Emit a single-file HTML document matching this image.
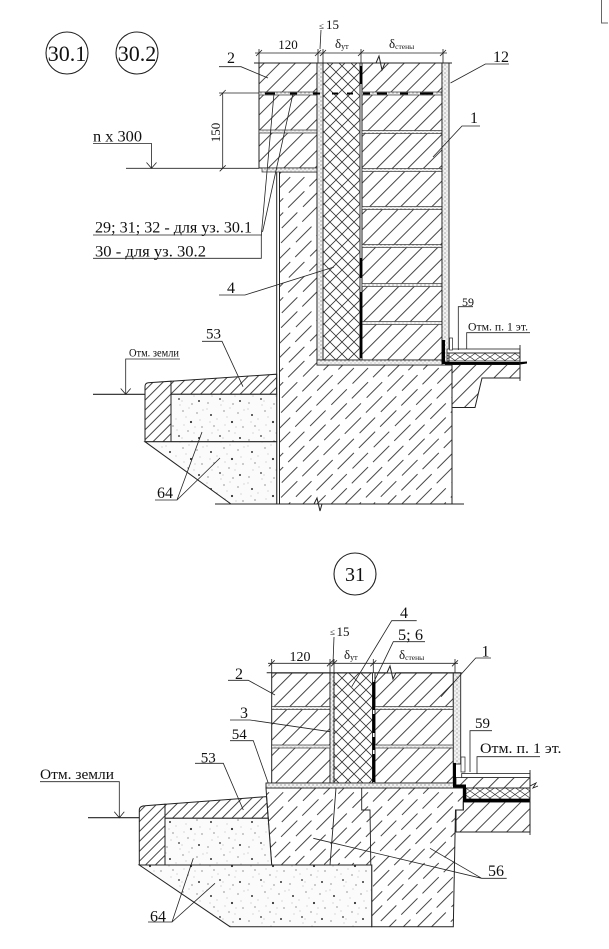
<!DOCTYPE html>
<html><head><meta charset="utf-8"><style>
html,body{margin:0;padding:0;background:#fff;}
svg{display:block;}
text{font-family:"Liberation Serif",serif;fill:#111;}
</style></head><body>
<svg width="609" height="949" viewBox="0 0 609 949" xmlns="http://www.w3.org/2000/svg">
<defs>
<pattern id="br" width="11" height="10" patternUnits="userSpaceOnUse" patternTransform="rotate(45)">
<line x1="0.5" y1="0" x2="0.5" y2="10" stroke="#333" stroke-width="0.9"/></pattern>
<pattern id="dn" width="7" height="10" patternUnits="userSpaceOnUse" patternTransform="rotate(45)">
<line x1="0.5" y1="0" x2="0.5" y2="10" stroke="#333" stroke-width="0.9"/></pattern>
<pattern id="cc" width="20" height="30" patternUnits="userSpaceOnUse" patternTransform="rotate(45)">
<path d="M0.5 0V22M10.5 10V30M10.5 0V3" stroke="#333" stroke-width="0.9" fill="none"/></pattern>
<pattern id="xh" width="12" height="12" patternUnits="userSpaceOnUse">
<path d="M0 0L12 12M12 0L0 12" stroke="#333" stroke-width="0.8" fill="none"/></pattern>
<pattern id="xf" width="10" height="7" patternUnits="userSpaceOnUse">
<path d="M0 0L10 7M10 0L0 7" stroke="#333" stroke-width="0.7" fill="none"/></pattern>
<pattern id="mo" width="4" height="4" patternUnits="userSpaceOnUse">
<rect width="4" height="4" fill="#f2f2f2"/>
<circle cx="1" cy="1" r="0.6" fill="#777"/><circle cx="3" cy="3" r="0.5" fill="#999"/></pattern>
<pattern id="sd" width="41" height="37" patternUnits="userSpaceOnUse">
<rect width="41" height="37" fill="#fbfbfb"/>
<g fill="#333"><circle cx="6" cy="8" r="1"/><circle cx="27" cy="15" r="1.1"/><circle cx="15" cy="29" r="0.9"/><circle cx="35" cy="31" r="1"/></g>
<g fill="#555"><circle cx="19" cy="4" r="0.6"/><circle cx="33" cy="6" r="0.6"/><circle cx="9" cy="19" r="0.6"/><circle cx="24" cy="24" r="0.6"/><circle cx="3" cy="33" r="0.6"/><circle cx="38" cy="20" r="0.6"/><circle cx="28" cy="34" r="0.6"/></g>
<g fill="#999"><circle cx="12" cy="12" r="0.45"/><circle cx="2" cy="2" r="0.45"/><circle cx="22" cy="10" r="0.45"/><circle cx="30" cy="26" r="0.45"/><circle cx="16" cy="35" r="0.45"/><circle cx="36" cy="13" r="0.45"/><circle cx="7" cy="26" r="0.45"/><circle cx="20" cy="18" r="0.45"/><circle cx="39" cy="3" r="0.45"/><circle cx="25" cy="1" r="0.45"/><circle cx="13" cy="23" r="0.45"/><circle cx="31" cy="20" r="0.45"/><circle cx="5" cy="15" r="0.45"/><circle cx="18" cy="31" r="0.45"/></g>
</pattern>
</defs>

<!-- corner mark -->
<path d="M601.5 0V23H608" stroke="#666" stroke-width="1" fill="none"/>

<!-- ================= TOP DRAWING ================= -->
<circle cx="67" cy="53" r="21" fill="none" stroke="#222" stroke-width="1.1"/>
<text x="67" y="61" font-size="22" text-anchor="middle">30.1</text>
<circle cx="137" cy="53" r="21" fill="none" stroke="#222" stroke-width="1.1"/>
<text x="137" y="61" font-size="22" text-anchor="middle">30.2</text>

<!-- dimensions -->
<g stroke="#222" stroke-width="0.8" fill="none">
<path d="M255 53H447"/>
<path d="M259 49V63M318 49V63M323 49V63M361 49V63M443 49V63"/>
<path d="M256 56L262 50M315 56L321 50M320 56L326 50M358 56L364 50M440 56L446 50"/>
<path d="M321 30L320 49"/>
</g>
<text x="288" y="49" font-size="13" text-anchor="middle">120</text>
<text x="319" y="29" font-size="9">≤</text>
<text x="326" y="29" font-size="13">15</text>
<text x="335" y="48" font-size="13">δ<tspan font-size="8" dy="1">ут</tspan></text>
<text x="389" y="48" font-size="13">δ<tspan font-size="7.5" dy="1">стены</tspan></text>

<!-- foundation -->
<path d="M279.5 172H317V365H452V504H279.5Z" fill="url(#cc)" stroke="#222" stroke-width="1"/>
<path d="M276.7 172V504M279.5 172V504" stroke="#222" stroke-width="1"/>

<!-- outer brick -->
<rect x="259" y="63" width="58" height="105" fill="url(#br)" stroke="#222" stroke-width="1"/>
<rect x="259" y="92" width="58" height="3" fill="url(#mo)" stroke="#333" stroke-width="0.7"/>
<rect x="259" y="130" width="58" height="3" fill="url(#mo)" stroke="#333" stroke-width="0.7"/>
<rect x="262" y="168" width="55" height="4" fill="url(#mo)" stroke="#333" stroke-width="0.7"/>

<!-- mortar strip, insulation, inner wall -->
<rect x="317" y="63" width="6" height="297" fill="url(#mo)" stroke="#222" stroke-width="0.9"/>
<rect x="323" y="63" width="37" height="297" fill="url(#xh)" stroke="#222" stroke-width="0.9"/>
<rect x="362" y="63" width="80" height="297" fill="url(#br)" stroke="#222" stroke-width="1"/>
<g fill="url(#mo)" stroke="#333" stroke-width="0.7">
<rect x="362" y="92" width="80" height="3"/>
<rect x="362" y="130.5" width="80" height="3"/>
<rect x="362" y="168.5" width="80" height="3"/>
<rect x="362" y="206.5" width="80" height="3"/>
<rect x="362" y="244.5" width="80" height="3"/>
<rect x="362" y="283.5" width="80" height="3"/>
<rect x="362" y="321.5" width="80" height="3"/>
</g>
<rect x="317" y="360" width="125" height="5" fill="url(#mo)" stroke="#222" stroke-width="0.8"/>
<rect x="442" y="63" width="7" height="299" fill="url(#mo)" stroke="#222" stroke-width="0.9"/>
<path d="M361 66V84M361 258V278M361 292V358" stroke="#000" stroke-width="2.4"/>
<path d="M265 93.5H275M290 93.5H297M313 93.5H320M332 93.5H338M347 93.5H353M363 93.5H370M377 93.5H387M400 93.5H408M420 93.5H433" stroke="#000" stroke-width="2"/>

<!-- top cut line -->
<path d="M254 63H376L379 56L382 70L385 63H452" stroke="#222" stroke-width="1" fill="none"/>

<!-- floor (top) -->
<path d="M452 364.5H520V378H482L475 407.5H452Z" fill="url(#br)" stroke="#222" stroke-width="1"/>
<rect x="447" y="349" width="73" height="4" fill="#fff" stroke="#222" stroke-width="0.8"/>
<rect x="447" y="353" width="73" height="8" fill="url(#xf)" stroke="#222" stroke-width="0.8"/>
<path d="M445 362H520L527 361.5V363.5L520 364.5H445Z" fill="#000"/>
<rect x="441.7" y="340" width="3.3" height="24" fill="#000"/>
<rect x="449.5" y="338" width="3" height="12" fill="#fff" stroke="#222" stroke-width="0.7"/>
<path d="M520 345V381" stroke="#222" stroke-width="0.9"/>

<!-- blind area, sand (top) -->
<path d="M145 441.7V386.7Q145 383 148.3 382.7L171 381.2V441.7Z" fill="url(#dn)" stroke="#222" stroke-width="1"/>
<path d="M171 381.2L276.7 374.2V394.3H171Z" fill="url(#dn)" stroke="#222" stroke-width="1"/>
<rect x="171" y="394.3" width="105.7" height="47.4" fill="url(#sd)" stroke="#222" stroke-width="1"/>
<path d="M145 441.7H276.7V504H231Z" fill="url(#sd)" stroke="#222" stroke-width="1"/>

<!-- base lines -->
<path d="M215 504H314L317 498L320 511L322 504H464" stroke="#222" stroke-width="1" fill="none"/>
<path d="M93 394.3H145" stroke="#222" stroke-width="1.2"/>

<!-- leaders top -->
<g stroke="#222" stroke-width="0.8" fill="none">
<path d="M219 66.7H241L268 78"/>
<path d="M509 64H485.4L450.5 83"/>
<path d="M480 126H462L433 157"/>
<path d="M219 295H245L334 267"/>
<path d="M202 341.3H222L243 386.7"/>
<path d="M155 500H177L202 432M177 500L220 458"/>
<path d="M180 359H125.7V394.3M120.7 388.5L125.7 394.3L130.7 388.5"/>
<path d="M93 143.5H151.5V168.3M146.5 162.5L151.5 168.3L156.5 162.5"/>
<path d="M126 168.3H259"/>
<path d="M219 93H259M222.7 93V168.3M219.7 96L225.7 90M219.7 171.3L225.7 165.3"/>
<path d="M93 235H262M93 258.3H261.3V235L274 93.5M262.5 232L293 93.5"/>
<path d="M473 306.7H458.3V350"/>
<path d="M530 332.7H466.7V349"/>
</g>
<text x="227" y="63" font-size="16">2</text>
<text x="493" y="62" font-size="16">12</text>
<text x="470" y="123" font-size="16">1</text>
<text x="0" y="0" font-size="13" text-anchor="middle" transform="translate(220 132.5) rotate(-90)">150</text>
<text x="93" y="141.5" font-size="16" textLength="49" lengthAdjust="spacingAndGlyphs">n x 300</text>
<text x="95" y="232.5" font-size="16" textLength="157" lengthAdjust="spacingAndGlyphs">29; 31; 32 - для уз. 30.1</text>
<text x="95" y="256.5" font-size="16" textLength="111" lengthAdjust="spacingAndGlyphs">30 - для уз. 30.2</text>
<text x="227" y="293" font-size="16">4</text>
<text x="206" y="338.5" font-size="15">53</text>
<text x="129" y="356.5" font-size="11.5" textLength="50" lengthAdjust="spacingAndGlyphs">Отм. земли</text>
<text x="157" y="498" font-size="16">64</text>
<text x="462" y="306" font-size="12">59</text>
<text x="468" y="330.5" font-size="11.5" textLength="60" lengthAdjust="spacingAndGlyphs">Отм. п. 1 эт.</text>

<!-- ================= BOTTOM DRAWING ================= -->
<circle cx="355" cy="574" r="21" fill="none" stroke="#222" stroke-width="1.1"/>
<text x="355" y="581" font-size="20" text-anchor="middle">31</text>

<g stroke="#222" stroke-width="0.8" fill="none">
<path d="M268 663.3H458"/>
<path d="M271.7 659V673M330 659V673M334 659V673M373.3 659V673M455 659V673"/>
<path d="M268.7 666.3L274.7 660.3M327 666.3L333 660.3M331 666.3L337 660.3M370.3 666.3L376.3 660.3M452 666.3L458 660.3"/>
<path d="M334 637L333 663"/>
</g>
<text x="300" y="661" font-size="14" text-anchor="middle">120</text>
<text x="330" y="635" font-size="9">≤</text>
<text x="336.5" y="636" font-size="13">15</text>
<text x="344" y="659" font-size="13">δ<tspan font-size="8" dy="1">ут</tspan></text>
<text x="399" y="659" font-size="13">δ<tspan font-size="7.5" dy="1">стены</tspan></text>

<!-- foundation 56 -->
<path d="M266 788H463.3V810H455.5L453.3 926.7H371.7V865H271.7Z" fill="url(#cc)" stroke="#222" stroke-width="1"/>
<path d="M336 788L330 865M361.7 788V810H370L371.7 926.7" stroke="#222" stroke-width="0.9" fill="none"/>

<!-- walls -->
<rect x="271.7" y="673" width="58.3" height="110" fill="url(#br)" stroke="#222" stroke-width="1"/>
<rect x="330" y="673" width="4" height="110" fill="url(#mo)" stroke="#222" stroke-width="0.9"/>
<rect x="334" y="673" width="38.5" height="110" fill="url(#xh)" stroke="#222" stroke-width="0.9"/>
<rect x="375" y="673" width="78.3" height="110" fill="url(#br)" stroke="#222" stroke-width="1"/>
<g fill="url(#mo)" stroke="#333" stroke-width="0.7">
<rect x="271.7" y="706.5" width="58.3" height="3"/>
<rect x="271.7" y="745" width="58.3" height="3"/>
<rect x="375" y="706.5" width="78.3" height="3"/>
<rect x="375" y="745" width="78.3" height="3"/>
</g>
<rect x="453.3" y="673" width="7.4" height="91" fill="url(#mo)" stroke="#222" stroke-width="0.9"/>
<path d="M373.7 682V710M373.7 714V733M373.7 737V750M373.7 754V782" stroke="#000" stroke-width="2.6"/>
<rect x="266" y="783" width="189" height="5" fill="url(#mo)" stroke="#222" stroke-width="0.9"/>
<path d="M266.7 672.7H387L390 666L393 679L396 672.7H461.7" stroke="#222" stroke-width="1" fill="none"/>

<!-- floor (bottom) -->
<path d="M466 802H530V832H456V810H463.3V802Z" fill="url(#br)" stroke="#222" stroke-width="1"/>
<rect x="456" y="777.5" width="74" height="10.5" fill="url(#br)" stroke="#222" stroke-width="0.8"/>
<rect x="466" y="788" width="64" height="11" fill="url(#xf)" stroke="#222" stroke-width="0.8"/>
<rect x="461.7" y="773.5" width="68.3" height="4" fill="#fff" stroke="#222" stroke-width="0.8"/>
<path d="M453 763H456V784.5H466V799H530V802H463V787.5H453Z" fill="#000"/>
<rect x="461" y="757" width="4" height="15" fill="#fff" stroke="#222" stroke-width="0.7"/>
<path d="M530 770V835M530 786L536 783L533 788L538 786" stroke="#222" stroke-width="0.9" fill="none"/>

<!-- blind area, sand (bottom) -->
<path d="M139.3 865V810Q139.3 806 145 805.7L165 804.2V865Z" fill="url(#dn)" stroke="#222" stroke-width="1"/>
<path d="M165 804.2L266.5 796.6L268.2 818.3H165Z" fill="url(#dn)" stroke="#222" stroke-width="1"/>
<path d="M165 818.3H268.2L271.7 865H165Z" fill="url(#sd)" stroke="#222" stroke-width="1"/>
<path d="M139.3 865H371.7V926.7H230Z" fill="url(#sd)" stroke="#222" stroke-width="1"/>
<path d="M88 817.7H139.3" stroke="#222" stroke-width="1.2"/>

<!-- leaders bottom -->
<g stroke="#222" stroke-width="0.8" fill="none">
<path d="M416.7 620.7H391.7L351.7 686.7"/>
<path d="M425 641.7H393.3L374 681.7"/>
<path d="M491 658H475.7L441 696.7"/>
<path d="M228 680.3H248.3L275 695"/>
<path d="M230 720H250L330 731.7"/>
<path d="M230 740.7H253.3L268.3 783.3"/>
<path d="M195 763.3H223.3L243.3 810"/>
<path d="M40 781.7H119.3V817.7M114.3 811.7L119.3 817.7L124.3 811.7"/>
<path d="M148 922H172L193.3 858.3M172 922L215 883.3"/>
<path d="M506.7 878.3H481.7L313.3 838.3M481.7 878.3L430 848.3"/>
<path d="M492 730.7H470V772"/>
<path d="M540 756.7H477V774"/>
</g>
<text x="400" y="618" font-size="16">4</text>
<text x="398" y="640" font-size="16" textLength="25" lengthAdjust="spacingAndGlyphs">5; 6</text>
<text x="481.5" y="656.5" font-size="16">1</text>
<text x="235" y="679" font-size="16">2</text>
<text x="240" y="718" font-size="16">3</text>
<text x="231.7" y="739" font-size="15">54</text>
<text x="200.7" y="762.5" font-size="15">53</text>
<text x="40" y="779" font-size="15" textLength="74" lengthAdjust="spacingAndGlyphs">Отм. земли</text>
<text x="150" y="921.5" font-size="16">64</text>
<text x="488" y="876" font-size="16">56</text>
<text x="475" y="728" font-size="15">59</text>
<text x="480" y="753" font-size="15" textLength="81.5" lengthAdjust="spacingAndGlyphs">Отм. п. 1 эт.</text>
</svg>
</body></html>
